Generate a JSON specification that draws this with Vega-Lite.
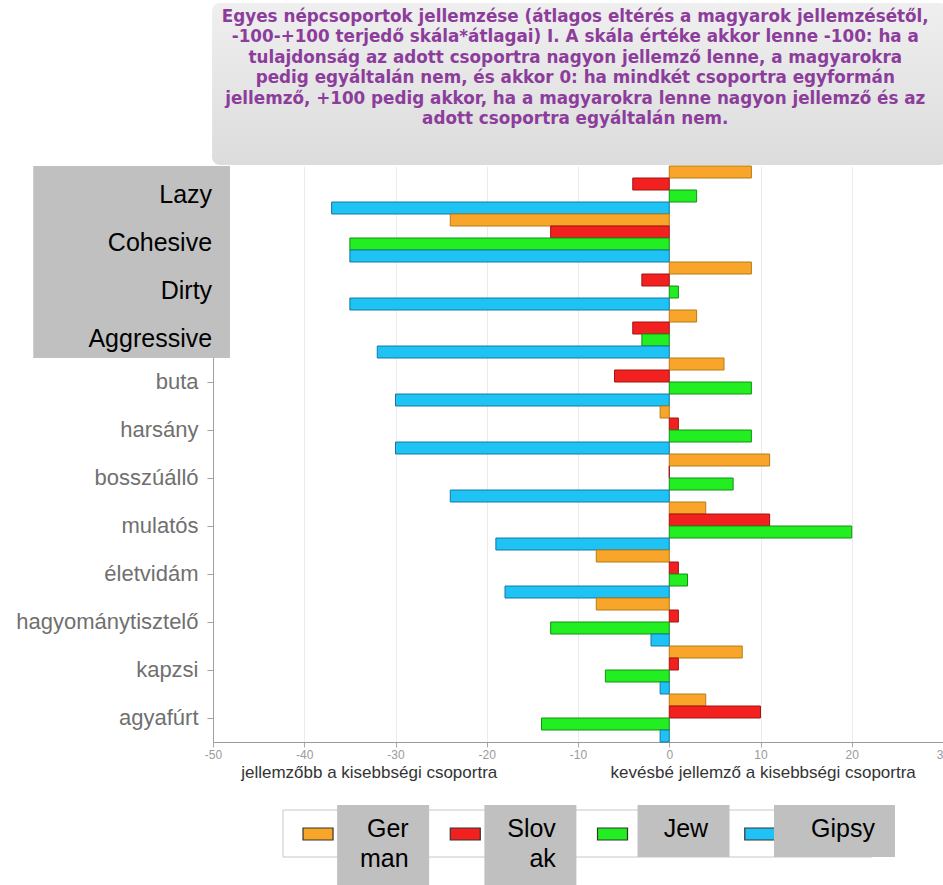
{
  "$schema": "https://vega.github.io/schema/vega-lite/v6.json",
  "width": 730,
  "height": 576,
  "autosize": {"type": "none"},
  "padding": {"left": 213, "top": 166, "right": 0, "bottom": 143},
  "background": "white",
  "config": {"view": {"stroke": null}, "font": "Liberation Sans"},
  "datasets": {
    "bars": [
      {"trait": "Lazy", "group": "German", "value": 9},
      {"trait": "Lazy", "group": "Slovak", "value": -4},
      {"trait": "Lazy", "group": "Jew", "value": 3},
      {"trait": "Lazy", "group": "Gipsy", "value": -37},
      {"trait": "Cohesive", "group": "German", "value": -24},
      {"trait": "Cohesive", "group": "Slovak", "value": -13},
      {"trait": "Cohesive", "group": "Jew", "value": -35},
      {"trait": "Cohesive", "group": "Gipsy", "value": -35},
      {"trait": "Dirty", "group": "German", "value": 9},
      {"trait": "Dirty", "group": "Slovak", "value": -3},
      {"trait": "Dirty", "group": "Jew", "value": 1},
      {"trait": "Dirty", "group": "Gipsy", "value": -35},
      {"trait": "Aggressive", "group": "German", "value": 3},
      {"trait": "Aggressive", "group": "Slovak", "value": -4},
      {"trait": "Aggressive", "group": "Jew", "value": -3},
      {"trait": "Aggressive", "group": "Gipsy", "value": -32},
      {"trait": "buta", "group": "German", "value": 6},
      {"trait": "buta", "group": "Slovak", "value": -6},
      {"trait": "buta", "group": "Jew", "value": 9},
      {"trait": "buta", "group": "Gipsy", "value": -30},
      {"trait": "harsány", "group": "German", "value": -1},
      {"trait": "harsány", "group": "Slovak", "value": 1},
      {"trait": "harsány", "group": "Jew", "value": 9},
      {"trait": "harsány", "group": "Gipsy", "value": -30},
      {"trait": "bosszúálló", "group": "German", "value": 11},
      {"trait": "bosszúálló", "group": "Slovak", "value": 0},
      {"trait": "bosszúálló", "group": "Jew", "value": 7},
      {"trait": "bosszúálló", "group": "Gipsy", "value": -24},
      {"trait": "mulatós", "group": "German", "value": 4},
      {"trait": "mulatós", "group": "Slovak", "value": 11},
      {"trait": "mulatós", "group": "Jew", "value": 20},
      {"trait": "mulatós", "group": "Gipsy", "value": -19},
      {"trait": "életvidám", "group": "German", "value": -8},
      {"trait": "életvidám", "group": "Slovak", "value": 1},
      {"trait": "életvidám", "group": "Jew", "value": 2},
      {"trait": "életvidám", "group": "Gipsy", "value": -18},
      {"trait": "hagyománytisztelő", "group": "German", "value": -8},
      {"trait": "hagyománytisztelő", "group": "Slovak", "value": 1},
      {"trait": "hagyománytisztelő", "group": "Jew", "value": -13},
      {"trait": "hagyománytisztelő", "group": "Gipsy", "value": -2},
      {"trait": "kapzsi", "group": "German", "value": 8},
      {"trait": "kapzsi", "group": "Slovak", "value": 1},
      {"trait": "kapzsi", "group": "Jew", "value": -7},
      {"trait": "kapzsi", "group": "Gipsy", "value": -1},
      {"trait": "agyafúrt", "group": "German", "value": 4},
      {"trait": "agyafúrt", "group": "Slovak", "value": 10},
      {"trait": "agyafúrt", "group": "Jew", "value": -14},
      {"trait": "agyafúrt", "group": "Gipsy", "value": -1}
    ],
    "overlay": [
      {"trait": "Lazy"},
      {"trait": "Cohesive"},
      {"trait": "Dirty"},
      {"trait": "Aggressive"}
    ],
    "legend": [
      {"group": "German", "label": "Ger\nman"},
      {"group": "Slovak", "label": "Slov\nak"},
      {"group": "Jew", "label": "Jew"},
      {"group": "Gipsy", "label": "Gipsy"}
    ],
    "titleText": [
      {"text": "Egyes népcsoportok jellemzése (átlagos eltérés a magyarok jellemzésétől,\n-100-+100 terjedő skála*átlagai) I. A skála értéke akkor lenne -100: ha a\ntulajdonság az adott csoportra nagyon jellemző lenne, a magyarokra\npedig egyáltalán nem, és akkor 0: ha mindkét csoportra egyformán\njellemző, +100 pedig akkor, ha a magyarokra lenne nagyon jellemző és az\nadott csoportra egyáltalán nem."}
    ],
    "deco": [{}]
  },
  "resolve": {"scale": {"x": "independent", "y": "independent"}},
  "layer": [
    {
      "data": {"name": "deco"},
      "mark": {
        "type": "rect",
        "cornerRadius": 8,
        "fill": {
          "gradient": "linear", "x1": 0, "y1": 0, "x2": 0, "y2": 1,
          "stops": [{"offset": 0, "color": "#efefef"}, {"offset": 1, "color": "#dcdcdc"}]
        }
      },
      "encoding": {
        "x": {"datum": -50.1, "type": "quantitative", "scale": {"domain": [-50, 30]}, "axis": null},
        "x2": {"datum": 30.5},
        "y": {"datum": 1.283, "type": "quantitative", "scale": {"domain": [0, 1], "nice": false}, "axis": null},
        "y2": {"datum": 1.0017}
      }
    },
    {
      "data": {"name": "titleText"},
      "mark": {"type": "text", "align": "center", "baseline": "middle", "lineBreak": "\n", "lineHeight": 20.5, "font": "DejaVu Sans", "fontWeight": "bold", "fontSize": 16.8, "color": "#8c3d9c"},
      "encoding": {
        "x": {"datum": -10.3, "type": "quantitative", "scale": {"domain": [-50, 30]}, "axis": null},
        "y": {"datum": 1.2587, "type": "quantitative", "scale": {"domain": [0, 1], "nice": false}, "axis": null},
        "text": {"field": "text"}
      }
    },
    {
      "data": {"name": "bars"},
      "mark": {"type": "bar", "strokeWidth": 1},
      "encoding": {
        "y": {
          "field": "trait", "type": "nominal",
          "scale": {"domain": ["Lazy", "Cohesive", "Dirty", "Aggressive", "buta", "harsány", "bosszúálló", "mulatós", "életvidám", "hagyománytisztelő", "kapzsi", "agyafúrt"], "paddingInner": 0, "paddingOuter": 0},
          "axis": {
            "title": null,
            "labelExpr": "indexof(['Lazy','Cohesive','Dirty','Aggressive'], datum.value) >= 0 ? '' : datum.value",
            "labelFont": "Liberation Sans", "labelFontSize": 22, "labelColor": "#707070",
            "labelPadding": 9, "labelLimit": 400, "tickSize": 6, "tickColor": "#a0a0a0", "domainColor": "#a0a0a0"
          }
        },
        "yOffset": {"field": "group", "type": "nominal", "sort": ["German", "Slovak", "Jew", "Gipsy"], "scale": {"domain": ["German", "Slovak", "Jew", "Gipsy"], "paddingInner": 0, "paddingOuter": 0}},
        "x": {
          "field": "value", "type": "quantitative",
          "scale": {"domain": [-50, 30], "nice": false},
          "axis": {
            "values": [-50, -40, -30, -20, -10, 0, 10, 20, 30],
            "labelExpr": "'' + datum.value",
            "title": "jellemzőbb a kisebbségi csoportra\u00a0\u00a0\u00a0\u00a0\u00a0\u00a0\u00a0\u00a0\u00a0\u00a0\u00a0\u00a0\u00a0\u00a0\u00a0\u00a0\u00a0\u00a0\u00a0\u00a0\u00a0\u00a0\u00a0\u00a0kevésbé jellemző a kisebbségi csoportra",
            "titleFont": "Liberation Sans", "titleFontSize": 17, "titleFontWeight": "normal", "titleColor": "#333333", "titlePadding": 4,
            "labelFont": "Liberation Sans", "labelFontSize": 12, "labelColor": "#9a9a9a", "labelFlush": false, "labelOverlap": false,
            "tickColor": "#aaaaaa", "tickSize": 5, "domainColor": "#999999",
            "grid": true, "gridColor": "#ebebeb"
          }
        },
        "color": {"field": "group", "type": "nominal", "scale": {"domain": ["German", "Slovak", "Jew", "Gipsy"], "range": ["#f7a62a", "#f32020", "#22ee22", "#1ec2f4"]}, "legend": null},
        "stroke": {"field": "group", "type": "nominal", "scale": {"domain": ["German", "Slovak", "Jew", "Gipsy"], "range": ["#b97a18", "#a01515", "#159015", "#16799e"]}, "legend": null}
      }
    },
    {
      "data": {"name": "overlay"},
      "mark": {"type": "rect", "fill": "#c0c0c0"},
      "encoding": {
        "y": {"field": "trait", "type": "nominal", "scale": {"domain": ["Lazy", "Cohesive", "Dirty", "Aggressive", "buta", "harsány", "bosszúálló", "mulatós", "életvidám", "hagyománytisztelő", "kapzsi", "agyafúrt"], "paddingInner": 0, "paddingOuter": 0}, "axis": null},
        "x": {"datum": -69.7, "type": "quantitative", "scale": {"domain": [-50, 30]}, "axis": null},
        "x2": {"datum": -48.14}
      }
    },
    {
      "data": {"name": "overlay"},
      "mark": {"type": "text", "align": "right", "baseline": "middle", "font": "Liberation Sans", "fontSize": 25, "color": "#000000", "dy": 5},
      "encoding": {
        "y": {"field": "trait", "type": "nominal", "scale": {"domain": ["Lazy", "Cohesive", "Dirty", "Aggressive", "buta", "harsány", "bosszúálló", "mulatós", "életvidám", "hagyománytisztelő", "kapzsi", "agyafúrt"], "paddingInner": 0, "paddingOuter": 0}, "axis": null},
        "x": {"datum": -50.1, "type": "quantitative", "scale": {"domain": [-50, 30]}, "axis": null},
        "text": {"field": "trait"}
      }
    },
    {
      "data": {"name": "deco"},
      "mark": {"type": "rect", "fill": "#ffffff", "stroke": "#c8c8c8", "strokeWidth": 1},
      "encoding": {
        "x": {"datum": -42.33, "type": "quantitative", "scale": {"domain": [-50, 30]}, "axis": null},
        "x2": {"datum": 22.22},
        "y": {"datum": -0.1181, "type": "quantitative", "scale": {"domain": [0, 1], "nice": false}, "axis": null},
        "y2": {"datum": -0.1997}
      }
    },
    {
      "data": {"name": "legend"},
      "mark": {"type": "bar", "width": 30, "xOffset": -38.6, "stroke": "#333333", "strokeWidth": 1.2},
      "encoding": {
        "x": {"field": "group", "type": "nominal", "scale": {"domain": ["German", "Slovak", "Jew", "Gipsy"], "range": [70, 659], "paddingInner": 0, "paddingOuter": 0}, "axis": null},
        "y": {"datum": -0.1493, "type": "quantitative", "scale": {"domain": [0, 1], "nice": false}, "axis": null},
        "y2": {"datum": -0.1701},
        "color": {"field": "group", "type": "nominal", "legend": null}
      }
    },
    {
      "data": {"name": "legend"},
      "transform": [{"filter": "datum.group == 'German' || datum.group == 'Slovak'"}],
      "mark": {"type": "bar", "width": 92, "xOffset": 26.5, "fill": "#c0c0c0"},
      "encoding": {
        "x": {"field": "group", "type": "nominal", "scale": {"domain": ["German", "Slovak", "Jew", "Gipsy"], "range": [70, 659], "paddingInner": 0, "paddingOuter": 0}, "axis": null},
        "y": {"datum": -0.1094, "type": "quantitative", "scale": {"domain": [0, 1], "nice": false}, "axis": null},
        "y2": {"datum": -0.2483}
      }
    },
    {
      "data": {"name": "legend"},
      "transform": [{"filter": "datum.group == 'Jew'"}],
      "mark": {"type": "bar", "width": 92, "xOffset": 32.4, "fill": "#c0c0c0"},
      "encoding": {
        "x": {"field": "group", "type": "nominal", "scale": {"domain": ["German", "Slovak", "Jew", "Gipsy"], "range": [70, 659], "paddingInner": 0, "paddingOuter": 0}, "axis": null},
        "y": {"datum": -0.1094, "type": "quantitative", "scale": {"domain": [0, 1], "nice": false}, "axis": null},
        "y2": {"datum": -0.1997}
      }
    },
    {
      "data": {"name": "legend"},
      "transform": [{"filter": "datum.group == 'Gipsy'"}],
      "mark": {"type": "bar", "width": 121, "xOffset": 36.1, "fill": "#c0c0c0"},
      "encoding": {
        "x": {"field": "group", "type": "nominal", "scale": {"domain": ["German", "Slovak", "Jew", "Gipsy"], "range": [70, 659], "paddingInner": 0, "paddingOuter": 0}, "axis": null},
        "y": {"datum": -0.1094, "type": "quantitative", "scale": {"domain": [0, 1], "nice": false}, "axis": null},
        "y2": {"datum": -0.1997}
      }
    },
    {
      "data": {"name": "legend"},
      "transform": [{"filter": "datum.group == 'German' || datum.group == 'Slovak'"}],
      "mark": {"type": "text", "align": "right", "baseline": "middle", "dx": 52, "font": "Liberation Sans", "fontSize": 25, "lineBreak": "\n", "lineHeight": 30, "color": "#000000"},
      "encoding": {
        "x": {"field": "group", "type": "nominal", "scale": {"domain": ["German", "Slovak", "Jew", "Gipsy"], "range": [70, 659], "paddingInner": 0, "paddingOuter": 0}, "axis": null},
        "y": {"datum": -0.151, "type": "quantitative", "scale": {"domain": [0, 1], "nice": false}, "axis": null},
        "text": {"field": "label"}
      }
    },
    {
      "data": {"name": "legend"},
      "transform": [{"filter": "datum.group == 'Jew'"}],
      "mark": {"type": "text", "align": "right", "baseline": "middle", "dx": 57, "font": "Liberation Sans", "fontSize": 25, "color": "#000000"},
      "encoding": {
        "x": {"field": "group", "type": "nominal", "scale": {"domain": ["German", "Slovak", "Jew", "Gipsy"], "range": [70, 659], "paddingInner": 0, "paddingOuter": 0}, "axis": null},
        "y": {"datum": -0.151, "type": "quantitative", "scale": {"domain": [0, 1], "nice": false}, "axis": null},
        "text": {"field": "label"}
      }
    },
    {
      "data": {"name": "legend"},
      "transform": [{"filter": "datum.group == 'Gipsy'"}],
      "mark": {"type": "text", "align": "right", "baseline": "middle", "dx": 76.6, "font": "Liberation Sans", "fontSize": 25, "color": "#000000"},
      "encoding": {
        "x": {"field": "group", "type": "nominal", "scale": {"domain": ["German", "Slovak", "Jew", "Gipsy"], "range": [70, 659], "paddingInner": 0, "paddingOuter": 0}, "axis": null},
        "y": {"datum": -0.151, "type": "quantitative", "scale": {"domain": [0, 1], "nice": false}, "axis": null},
        "text": {"field": "label"}
      }
    }
  ]
}
